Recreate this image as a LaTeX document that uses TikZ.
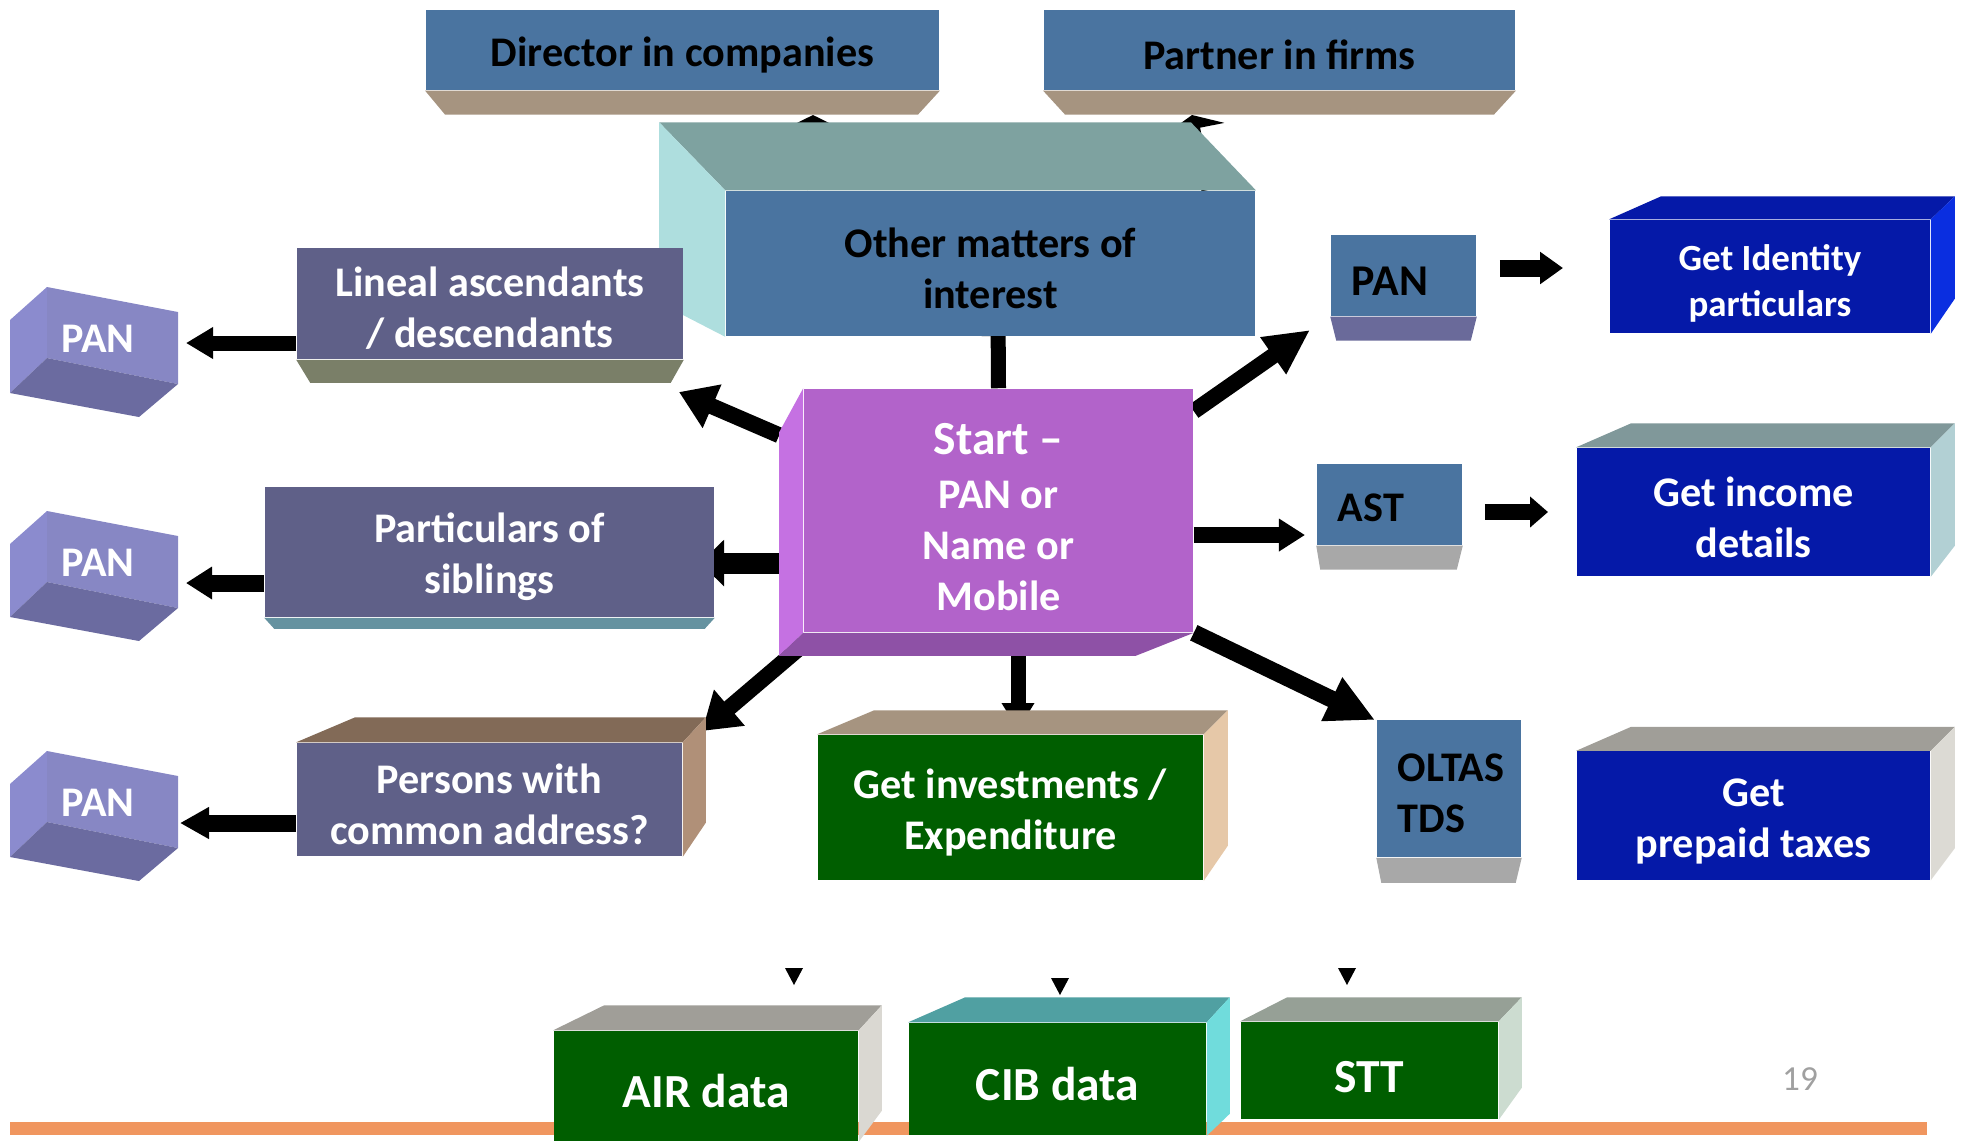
\documentclass[tikz,border=0pt]{standalone}
\usepackage{fontspec}
\setmainfont{Carlito}
\usepackage{xcolor}
\usetikzlibrary{arrows.meta,calc,backgrounds}

\definecolor{steel}{HTML}{4A74A0}
\definecolor{tanbev}{HTML}{A69480}
\definecolor{othtop}{HTML}{7EA2A0}
\definecolor{othleft}{HTML}{AEDEDE}
\definecolor{slate}{HTML}{5F6088}
\definecolor{linbev}{HTML}{7A7F68}
\definecolor{sibbev}{HTML}{6592A0}
\definecolor{pertop}{HTML}{826A57}
\definecolor{perright}{HTML}{B09078}
\definecolor{cubefront}{HTML}{8787C4}
\definecolor{cubeleft}{HTML}{8B8BCE}
\definecolor{cubebot}{HTML}{6B6BA0}
\definecolor{startfront}{HTML}{B263CA}
\definecolor{startleft}{HTML}{C571E2}
\definecolor{startbot}{HTML}{8E51A6}
\definecolor{panbev}{HTML}{6A6A9A}
\definecolor{greybev}{HTML}{A8A8A8}
\definecolor{deepblue}{HTML}{0519A8}
\definecolor{idright}{HTML}{0A2EE0}
\definecolor{inctop}{HTML}{80989A}
\definecolor{incright}{HTML}{B2D0D4}
\definecolor{pretop}{HTML}{A09E98}
\definecolor{preright}{HTML}{DCDAD4}
\definecolor{darkgreen}{HTML}{005E00}
\definecolor{invright}{HTML}{E6C8A8}
\definecolor{airright}{HTML}{DAD8D2}
\definecolor{cibtop}{HTML}{50A0A2}
\definecolor{cibright}{HTML}{70DCDC}
\definecolor{stttop}{HTML}{96A096}
\definecolor{sttright}{HTML}{CCDCD0}
\definecolor{footline}{HTML}{F0965F}
\definecolor{pagegrey}{HTML}{A0A0A0}

% invisible rule that pushes box texts a little lower
\newcommand{\textlift}[1]{\rule{0pt}{#1}}

\begin{document}
\begin{tikzpicture}[x=0.01cm, y=-0.01cm,
  frontbox/.style={inner sep=0pt, align=center, font=\bfseries\fontsize{12}{14.5}\selectfont},
  databox/.style={frontbox, fill=darkgreen, text=white, font=\bfseries\fontsize{13.5}{16}\selectfont},
  leftbox/.style={frontbox, align=left, inner xsep=0.21cm, text width=1.03cm},
  fatarrow/.style={line width=0.16cm, -{Triangle[width=0.45cm,length=0.36cm]}},
  slimarrow/.style={line width=0.16cm, -{Triangle[width=0.31cm,length=0.26cm]}}
]
\useasboundingbox (0,0) rectangle (1963,1141);

% top row
\node [frontbox, fill=steel, minimum width=5.13cm, minimum height=0.80cm] (dir) at (682.5,50) {\textlift{11pt}Director in companies};
\node [frontbox, fill=steel, minimum width=4.71cm, minimum height=0.80cm] (part) at (1279.5,50) {\textlift{11pt}Partner in firms};
\fill [tanbev] (dir.south west) -- (dir.south east) -- ($(dir.south east)+(-22,24)$) -- ($(dir.south west)+(20,24)$) -- cycle;
\fill [tanbev] (part.south west) -- (part.south east) -- ($(part.south east)+(-22,24)$) -- ($(part.south west)+(22,24)$) -- cycle;

% other matters
\node [frontbox, fill=steel, minimum width=5.29cm, minimum height=1.45cm] (oth) at (990.5,263.5) {\textlift{11pt}Other matters of\\interest};
\fill [othtop] (oth.north west) -- ($(oth.north west)+(-66,-68)$) -- ($(oth.north east)+(-65,-68)$) -- (oth.north east) -- cycle;
\fill [othleft] (oth.north west) -- ($(oth.north west)+(-66,-68)$) -- ($(oth.south west)+(-66,-34)$) -- (oth.south west) -- cycle;

% left column
\node [frontbox, fill=slate, text=white, minimum width=3.86cm, minimum height=1.11cm] (lin) at (490,303.5) {\textlift{11pt}Lineal ascendants\\/ descendants};
\fill [linbev] (lin.south west) -- (lin.south east) -- ($(lin.south east)+(-13,23)$) -- ($(lin.south west)+(14,23)$) -- cycle;
\node [frontbox, fill=slate, text=white, minimum width=4.49cm, minimum height=1.30cm] (sib) at (489.5,552) {\textlift{11pt}Particulars of\\siblings};
\fill [sibbev] (sib.south west) -- (sib.south east) -- ($(sib.south east)+(-10,11)$) -- ($(sib.south west)+(10,11)$) -- cycle;
\node [frontbox, fill=slate, text=white, minimum width=3.85cm, minimum height=1.13cm] (per) at (489.5,799.5) {\textlift{11pt}Persons with\\common address?};
\fill [pertop] (per.north west) -- ($(per.north west)+(59,-25)$) -- ($(per.north east)+(23,-25)$) -- (per.north east) -- cycle;
\fill [perright] (per.north east) -- ($(per.north east)+(23,-25)$) -- ($(per.south east)+(23,-34)$) -- (per.south east) -- cycle;

\foreach \cy/\cn in {0/panA,224/panB,464/panC}{
  \begin{scope}[shift={(0,\cy)}]
    \fill [cubeleft] (10,320) -- (47,287) -- (47,358) -- (10,393) -- cycle;
    \fill [cubefront] (47,287) -- (178,312) -- (178,384) -- (47,358) -- cycle;
    \fill [cubebot] (47,358) -- (178,384) -- (139,417) -- (10,393) -- cycle;
    \node [frontbox, text=white] (\cn) at (98,339) {PAN};
  \end{scope}
}

% start
\node [frontbox, fill=startfront, text=white, minimum width=3.89cm, minimum height=2.43cm] (start) at (998.5,510.5)
  {{\fontsize{13.5}{15}\selectfont\textlift{12.5pt}Start –}\\[1pt]PAN or\\Name or\\Mobile};
\fill [startleft] (start.north west) -- ($(start.north west)+(-24,44)$) -- ($(start.south west)+(-24,23)$) -- (start.south west) -- cycle;
\fill [startbot] (start.south west) -- ($(start.south west)+(-24,23)$) -- ($(start.south east)+(-58,23)$) -- (start.south east) -- cycle;

% middle right column
\node [leftbox, fill=steel, minimum width=1.45cm, minimum height=0.81cm, font=\bfseries\fontsize{12.5}{15}\selectfont] (panr) at (1403.5,275.5) {\textlift{11.5pt}PAN};
\fill [panbev] (panr.south west) -- (panr.south east) -- ($(panr.south east)+(-6,24)$) -- ($(panr.south west)+(6,24)$) -- cycle;
\node [leftbox, fill=steel, minimum width=1.45cm, minimum height=0.81cm, inner xsep=0.20cm] (ast) at (1389.5,504.5) {\textlift{9.5pt}AST};
\fill [greybev] (ast.south west) -- (ast.south east) -- ($(ast.south east)+(-6,24)$) -- ($(ast.south west)+(4,24)$) -- cycle;
\node [leftbox, fill=steel, minimum width=1.44cm, minimum height=1.37cm, text width=1.02cm] (olt) at (1449,788.5) {\textlift{10.5pt}OLTAS\\TDS};
\fill [greybev] (olt.south west) -- (olt.south east) -- ($(olt.south east)+(-6,25)$) -- ($(olt.south west)+(5,25)$) -- cycle;

% far right column
\node [frontbox, fill=deepblue, text=white, minimum width=3.20cm, minimum height=1.13cm, font=\bfseries\fontsize{10.5}{13}\selectfont] (getid) at (1770,276.5) {\textlift{11.5pt}Get Identity\\particulars};
\fill [deepblue] (getid.north west) -- ($(getid.north west)+(52,-23)$) -- ($(getid.north east)+(24,-23)$) -- (getid.north east) -- cycle;
\fill [idright] (getid.north east) -- ($(getid.north east)+(24,-23)$) -- ($(getid.south east)+(24,-35)$) -- (getid.south east) -- cycle;
\node [frontbox, fill=deepblue, text=white, minimum width=3.53cm, minimum height=1.28cm] (getinc) at (1753.5,512) {\textlift{11.5pt}Get income\\details};
\fill [inctop] (getinc.north west) -- ($(getinc.north west)+(55,-24)$) -- ($(getinc.north east)+(24,-24)$) -- (getinc.north east) -- cycle;
\fill [incright] (getinc.north east) -- ($(getinc.north east)+(24,-24)$) -- ($(getinc.south east)+(24,-31)$) -- (getinc.south east) -- cycle;
\node [frontbox, fill=deepblue, text=white, minimum width=3.53cm, minimum height=1.28cm] (getpre) at (1753.5,815.5) {\textlift{11.5pt}Get\\prepaid taxes};
\fill [pretop] (getpre.north west) -- ($(getpre.north west)+(55,-24)$) -- ($(getpre.north east)+(24,-24)$) -- (getpre.north east) -- cycle;
\fill [preright] (getpre.north east) -- ($(getpre.north east)+(24,-24)$) -- ($(getpre.south east)+(24,-32)$) -- (getpre.south east) -- cycle;

% investments
\node [frontbox, fill=darkgreen, text=white, minimum width=3.85cm, minimum height=1.45cm] (inv) at (1010.5,807.5) {\textlift{11.5pt}Get investments /\\Expenditure};
\fill [tanbev] (inv.north west) -- ($(inv.north west)+(57,-24)$) -- ($(inv.north east)+(24,-24)$) -- (inv.north east) -- cycle;
\fill [invright] (inv.north east) -- ($(inv.north east)+(24,-24)$) -- ($(inv.south east)+(24,-35)$) -- (inv.south east) -- cycle;

% data boxes
\node [databox, minimum width=3.04cm, minimum height=1.10cm] (air) at (706,1086) {\textlift{12.5pt}AIR data};
\fill [pretop] (air.north west) -- ($(air.north west)+(51,-25)$) -- ($(air.north east)+(23,-25)$) -- (air.north east) -- cycle;
\fill [airright] (air.north east) -- ($(air.north east)+(23,-25)$) -- ($(air.south east)+(23,-31)$) -- (air.south east) -- cycle;
\node [databox, minimum width=2.97cm, minimum height=1.12cm] (cib) at (1057.5,1079) {\textlift{12.5pt}CIB data};
\fill [cibtop] (cib.north west) -- ($(cib.north west)+(57,-25)$) -- ($(cib.north east)+(23,-25)$) -- (cib.north east) -- cycle;
\fill [cibright] (cib.north east) -- ($(cib.north east)+(23,-25)$) -- ($(cib.south east)+(23,-22)$) -- (cib.south east) -- cycle;
\node [databox, minimum width=2.57cm, minimum height=0.97cm] (stt) at (1369.5,1070.5) {\textlift{12.5pt}STT};
\fill [stttop] (stt.north west) -- ($(stt.north west)+(47,-24)$) -- ($(stt.north east)+(23,-24)$) -- (stt.north east) -- cycle;
\fill [sttright] (stt.north east) -- ($(stt.north east)+(23,-24)$) -- ($(stt.south east)+(23,-32)$) -- (stt.south east) -- cycle;

\foreach \tx/\ty in {794/976,1060/986,1347/976}
  \fill (\tx-9,\ty-8) -- (\tx+9,\ty-8) -- (\tx,\ty+9) -- cycle;

\node [text=pagegrey, font=\fontsize{10}{12}\selectfont] (pgnum) at (1800,1079) {19};

% arrow ends
\coordinate (othtip) at (998,310);
\coordinate (dirtip) at (813,115);
\coordinate (parttip) at (1192,115);
\coordinate (linin) at (679,392);
\coordinate (sibin) at (700,563);
\coordinate (perin) at (702,731);
\coordinate (invtip) at (1018,730);
\coordinate (oltin) at (1375,720);
\coordinate (panrin) at (1310,330);
\coordinate (astin) at (1305,535);
\coordinate (idin) at (1563,268);
\coordinate (incin) at (1548,512);
\coordinate (panAin) at (186,343);
\coordinate (panBin) at (186,583);
\coordinate (panCin) at (180,823);

\begin{scope}[on background layer]
\fill [footline] (10,1122) rectangle (1927,1135);
\draw [slimarrow, line width=0.15cm] (start.north) -- (othtip);
\draw [line width=0.12cm, -{Triangle[width=0.48cm,length=0.12cm]}] (oth.north -| dirtip) -- (dirtip);
\draw [line width=0.11cm, -{Triangle[width=0.6cm,length=0.14cm]}] ($(oth.north east)+(-49,0)$) -- (parttip);
\draw [fatarrow] ($(start.north west)+(-24,47)$) -- (linin);
\draw [line width=0.21cm, -{Triangle[width=0.45cm,length=0.24cm]}] (start.west |- sibin) -- (sibin);
\draw [fatarrow] ($(start.south west)+(0,12)$) -- (perin);
\draw [slimarrow, line width=0.15cm, -{Triangle[width=0.31cm,length=0.27cm]}] (start.south -| invtip) -- (invtip);
\draw [line width=0.17cm, -{Triangle[width=0.45cm,length=0.48cm]}] (start.south east) -- (oltin);
\draw [line width=0.16cm, -{Triangle[width=0.42cm,length=0.45cm]}] ($(start.north east)+(0,23)$) -- (panrin);
\draw [slimarrow] (start.east |- astin) -- (astin);
\draw [line width=0.17cm, -{Triangle[width=0.31cm,length=0.23cm]}, shorten <=0.23cm] (panr.east |- idin) -- (idin);
\draw [line width=0.16cm, -{Triangle[width=0.30cm,length=0.18cm]}, shorten <=0.22cm] (ast.east |- incin) -- (incin);
\draw [slimarrow, line width=0.15cm, -{Triangle[width=0.30cm,length=0.27cm]}] (lin.west |- panAin) -- (panAin);
\draw [slimarrow, line width=0.17cm] (sib.west |- panBin) -- (panBin);
\draw [slimarrow, line width=0.17cm, -{Triangle[width=0.30cm,length=0.29cm]}] (per.west |- panCin) -- (panCin);
\end{scope}
\end{tikzpicture}
\end{document}
